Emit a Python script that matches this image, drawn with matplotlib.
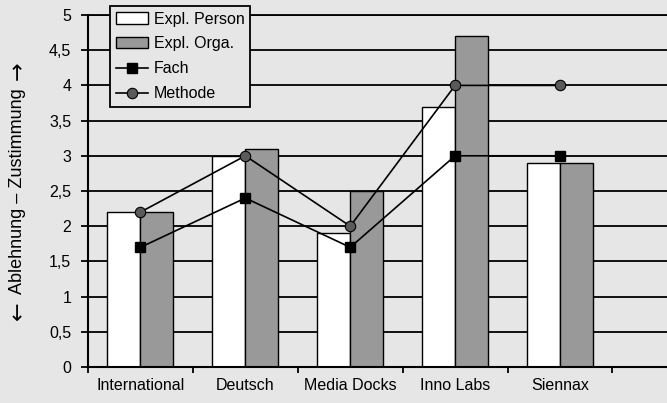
import numpy as np
import matplotlib
matplotlib.use("Agg")
import matplotlib.pyplot as plt

plt.rcParams['font.family'] = ['Liberation Sans', 'DejaVu Sans']

categories = ["International", "Deutsch", "Media Docks", "Inno Labs", "Siennax"]
expl_person = [2.2, 3.0, 1.9, 3.7, 2.9]
expl_orga = [2.2, 3.1, 2.5, 4.7, 2.9]
fach = [1.7, 2.4, 1.7, 3.0, 3.0]
methode = [2.2, 3.0, 2.0, 4.0, 4.0]
yticks = [0, 0.5, 1, 1.5, 2, 2.5, 3, 3.5, 4, 4.5, 5]
ytick_labels = ["0", "0,5", "1", "1,5", "2", "2,5", "3", "3,5", "4", "4,5", "5"]

bg = "#e6e6e6"
fs = 11.5

fig = plt.figure(figsize=(6.67, 4.03), dpi=100, facecolor=bg)
ax = fig.add_axes([88 / 667, 36 / 403, 1 - 88 / 667, 352 / 403])
ax.set_facecolor(bg)

x = np.arange(len(categories))
w = 0.315
b1 = ax.bar(x - w / 2, expl_person, w, color="white", edgecolor="black", linewidth=1.0,
            label="Expl. Person", zorder=2)
b2 = ax.bar(x + w / 2, expl_orga, w, color="#999999", edgecolor="black", linewidth=1.0,
            label="Expl. Orga.", zorder=2)
l1, = ax.plot(x, fach, color="black", linewidth=1.2, marker="s", markersize=7,
              markerfacecolor="black", markeredgecolor="black", label="Fach", zorder=3)
l2, = ax.plot(x, methode, color="black", linewidth=1.2, marker="o", markersize=7.5,
              markerfacecolor="#5a5a5a", markeredgecolor="black", markeredgewidth=0.8,
              label="Methode", zorder=3)

ax.set_xlim(-0.5, 5.02)
ax.set_ylim(0, 5)
ax.set_yticks(yticks)
ax.set_yticklabels(ytick_labels, fontsize=fs)
ax.set_xticks(x)
ax.set_xticklabels(categories, fontsize=fs)
ax.set_xticks(np.arange(-0.5, 5, 1), minor=True)
ax.tick_params(axis="x", which="major", length=0, pad=8)
ax.tick_params(axis="x", which="minor", length=4, width=1.3, direction="out")
ax.tick_params(axis="y", length=5, width=1.3, pad=7)

ax.yaxis.grid(True, color="black", linewidth=1.3, zorder=0)
ax.set_axisbelow(True)
ax.spines["right"].set_visible(False)
ax.spines["top"].set_linewidth(1.3)
ax.spines["left"].set_linewidth(1.5)
ax.spines["bottom"].set_linewidth(1.5)

# y label: text in Liberation Sans, arrows in DejaVu Sans (bigger glyphs)
lx, ly = 18 / 667, (403 - 191) / 403
fig.text(lx, ly, "Ablehnung \u2013 Zustimmung", rotation=90, fontsize=13,
         ha="center", va="center")
off = 120 / 403
fig.text(lx, ly - off, "\u2190", rotation=90, fontsize=16, family="DejaVu Sans",
         ha="center", va="center")
fig.text(lx, ly + off, "\u2192", rotation=90, fontsize=16, family="DejaVu Sans",
         ha="center", va="center")

leg = ax.legend([b1, b2, l1, l2], ["Expl. Person", "Expl. Orga.", "Fach", "Methode"],
                loc="upper left", bbox_to_anchor=(110 / 667, 1 - 6 / 403),
                bbox_transform=fig.transFigure, borderaxespad=0, fontsize=fs,
                frameon=True, fancybox=False, facecolor=bg, framealpha=1,
                edgecolor="black", handlelength=2.0, handletextpad=0.4,
                labelspacing=0.62, borderpad=0.35)
leg.get_frame().set_linewidth(1.3)
leg.set_zorder(5)

fig.savefig("out.png", dpi=100, facecolor=bg)
